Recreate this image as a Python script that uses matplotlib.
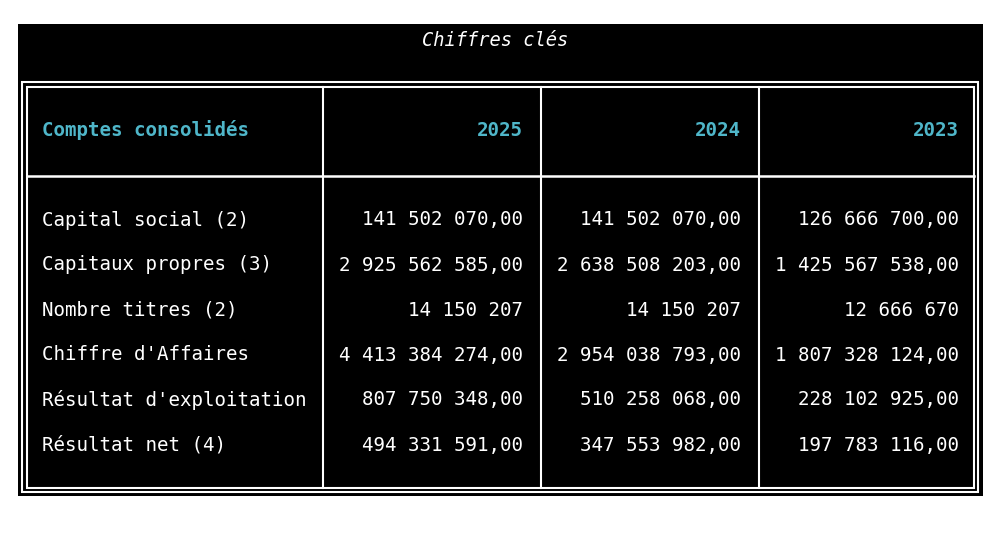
import matplotlib.pyplot as plt
from matplotlib.patches import Rectangle

title = "Chiffres clés"
header = ["Comptes consolidés", "2025", "2024", "2023"]
row_labels = ["Capital social (2)", "Capitaux propres (3)", "Nombre titres (2)",
              "Chiffre d'Affaires", "Résultat d'exploitation", "Résultat net (4)"]
values_2025 = ["141 502 070,00", "2 925 562 585,00", "14 150 207",
               "4 413 384 274,00", "807 750 348,00", "494 331 591,00"]
values_2024 = ["141 502 070,00", "2 638 508 203,00", "14 150 207",
               "2 954 038 793,00", "510 258 068,00", "347 553 982,00"]
values_2023 = ["126 666 700,00", "1 425 567 538,00", "12 666 670",
               "1 807 328 124,00", "228 102 925,00", "197 783 116,00"]

CYAN = "#4fb6c9"
FONT = "DejaVu Sans Mono"
FS = 13.8

fig = plt.figure(figsize=(10, 5.45), dpi=100, facecolor="white")
ax = fig.add_axes([0, 0, 1, 1])
ax.set_xlim(0, 1000)
ax.set_ylim(545, 0)
ax.axis("off")

# black panel
ax.add_patch(Rectangle((18, 24), 965, 472, facecolor="black", edgecolor="none"))
ax.text(495, 40, title, color="white", fontsize=13.5, family=FONT,
        style="italic", ha="center", va="center")

# double outer border
for x0, y0, x1, y1 in [(22, 82, 978, 492), (27, 87, 974, 488)]:
    ax.add_patch(Rectangle((x0, y0), x1 - x0, y1 - y0, facecolor="none",
                           edgecolor="white", lw=1.5))
# column separators
for x in [323, 541, 759]:
    ax.plot([x, x], [87, 488], color="white", lw=1.5)
# header separator
ax.plot([27, 974], [175.5, 175.5], color="white", lw=1.8)

col_right = [523, 741, 959]
ax.text(42, 130, header[0], color=CYAN, fontsize=FS, family=FONT,
        weight="bold", ha="left", va="center")
for xr, h in zip(col_right, header[1:]):
    ax.text(xr, 130, h, color=CYAN, fontsize=FS, family=FONT,
            weight="bold", ha="right", va="center")

row_y = [220, 265, 310, 355, 400, 445]
for i, y in enumerate(row_y):
    ax.text(42, y, row_labels[i], color="white", fontsize=FS, family=FONT,
            ha="left", va="center")
    for xr, col in zip(col_right, [values_2025, values_2024, values_2023]):
        ax.text(xr, y, col[i], color="white", fontsize=FS, family=FONT,
                ha="right", va="center")

fig.savefig("out.png", dpi=100, facecolor="white")
